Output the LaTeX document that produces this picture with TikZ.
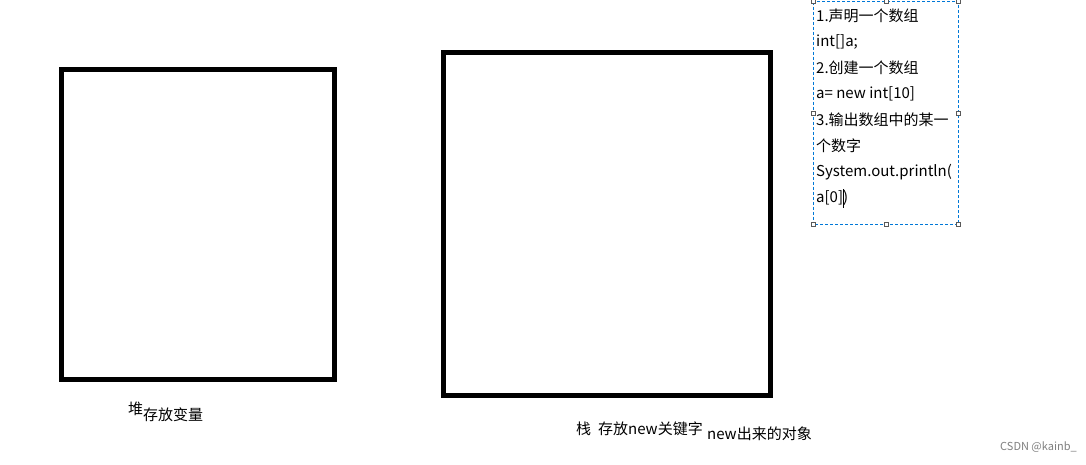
\documentclass[tikz,border=0pt]{standalone}
\usepackage{fontspec}
\setmainfont{Noto Sans CJK SC}
\begin{document}
\begin{tikzpicture}[x=1pt,y=-1pt,
  bigbox/.style={draw=black,line width=5pt},
  txt/.style={inner sep=0pt,anchor=west,font=\fontsize{15}{18}\selectfont},
  handle/.style={draw=gray!70!black,fill=white,line width=0.5pt,minimum size=4pt,inner sep=0pt}]
\useasboundingbox[fill=white] (0,0) rectangle (1086,464);
\draw[bigbox] (61.5,69.5) rectangle (334.5,379.5);
\draw[bigbox] (443.5,52.5) rectangle (770.5,395.5);
% text box
\draw[draw={rgb,255:red,0;green,120;blue,215},dashed,line width=0.8pt,dash pattern=on 3pt off 2pt] (813,1.5) rectangle (958.5,224.5);
\foreach \x in {813,886,958.5}{\foreach \y in {1.5,113,224.5}{
  \ifdim\x pt=886pt \ifdim\y pt=113pt \else \node[handle] at (\x,\y) {};\fi\else \node[handle] at (\x,\y) {};\fi}}
\node[txt] (l1) at (816,16) {1.声明一个数组};
\node[txt] (l2) at (816,42) {int[]a;};
\node[txt] (l3) at (816,68) {2.创建一个数组};
\node[txt] (l4) at (816,94) {a= new int[10]};
\node[txt] (l5) at (816,120) {3.输出数组中的某一};
\node[txt] (l6) at (816,146) {个数字};
\node[txt] (l7) at (816,172) {System.out.println(};
\node[txt] (l8) at (816,198) {a[0])};
\draw[line width=0.8pt] (843.5,189) -- (843.5,208);
% labels
\node[txt] (dui) at (128,409) {堆};
\node[txt] (duil) at (143,415) {存放变量};
\node[txt] (zhan) at (576,429) {栈};
\node[txt] (zhanl) at (598,429) {存放new关键字};
\node[txt] (zhanl2) at (707,434) {new出来的对象};
\node[inner sep=0pt,anchor=west,font=\fontsize{11}{13}\selectfont,text=gray] (csdn) at (1000,447) {CSDN @kainb\_};
\end{tikzpicture}
\end{document}
